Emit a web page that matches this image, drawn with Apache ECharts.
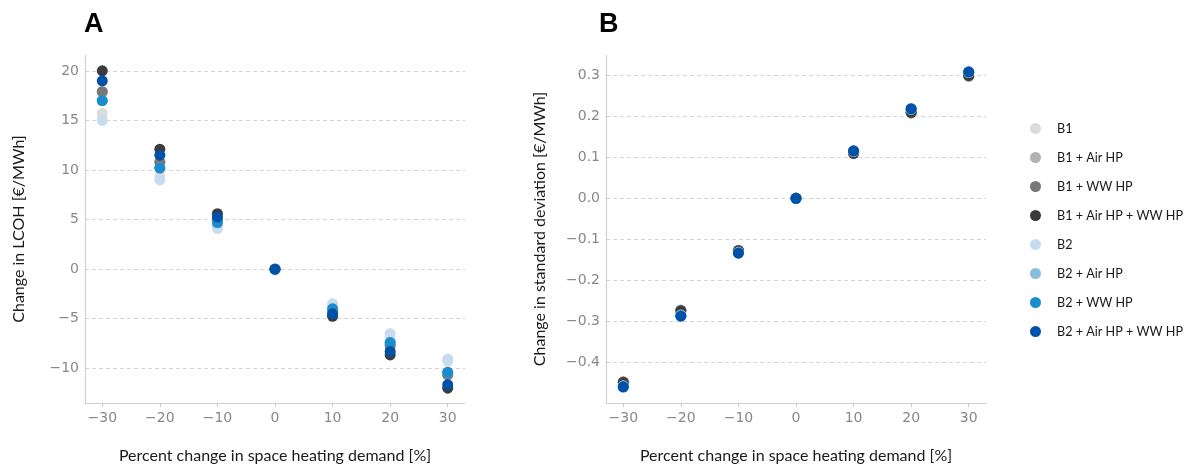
<!DOCTYPE html>
<html>
<head>
<meta charset="utf-8">
<script src="https://cdn.jsdelivr.net/npm/echarts@6/dist/echarts.min.js"></script>
<style>
html, body { margin: 0; padding: 0; background: #fff; }
#chart { width: 1189px; height: 470px; }
</style>
</head>
<body>
<div id="chart"></div>
<script>
// percent change in space heating demand
let xValues = [-30, -20, -10, 0, 10, 20, 30]

let seriesNames = ['B1', 'B1 + Air HP', 'B1 + WW HP', 'B1 + Air HP + WW HP',
  'B2', 'B2 + Air HP', 'B2 + WW HP', 'B2 + Air HP + WW HP']
let seriesColors = ['#dcdcdc', '#b2b2b2', '#787878', '#3c3c3c',
  '#c8dcf0', '#88bde0', '#1a8dcc', '#0052a8']

// A: change in LCOH [€/MWh]
let lcohB1 = [15.7, 9.4, 4.3, 0, -3.7, -7.0, -9.3]
let lcohB1Air = [17.9, 10.8, 5.0, 0, -4.2, -7.7, -10.6]
let lcohB1WW = [17.9, 10.8, 5.0, 0, -4.2, -7.7, -10.65]
let lcohB1All = [20.0, 12.1, 5.6, 0, -4.75, -8.65, -12.0]
let lcohB2 = [15.0, 9.0, 4.1, 0, -3.5, -6.5, -9.05]
let lcohB2Air = [17.0, 10.2, 4.7, 0, -4.0, -7.4, -10.4]
let lcohB2WW = [17.0, 10.2, 4.7, 0, -4.0, -7.4, -10.4]
let lcohB2All = [19.0, 11.5, 5.25, 0, -4.5, -8.3, -11.65]

// B: change in standard deviation [€/MWh]
let sdB1 = [-0.448, -0.273, -0.127, 0, 0.109, 0.208, 0.298]
let sdB1Air = [-0.448, -0.273, -0.127, 0, 0.109, 0.208, 0.298]
let sdB1WW = [-0.449, -0.274, -0.128, 0, 0.110, 0.209, 0.299]
let sdB1All = [-0.450, -0.275, -0.128, 0, 0.110, 0.210, 0.300]
let sdB2 = [-0.458, -0.285, -0.132, 0, 0.114, 0.217, 0.307]
let sdB2Air = [-0.459, -0.286, -0.133, 0, 0.115, 0.218, 0.308]
let sdB2WW = [-0.460, -0.287, -0.133, 0, 0.115, 0.218, 0.308]
let sdB2All = [-0.461, -0.288, -0.134, 0, 0.116, 0.219, 0.309]

let xTicks = [-30, -20, -10, 0, 10, 20, 30]
let lcohTicks = [-10, -5, 0, 5, 10, 15, 20]
let sdTicks = [-0.4, -0.3, -0.2, -0.1, 0, 0.1, 0.2, 0.3]

let lcohData = [lcohB1, lcohB1Air, lcohB1WW, lcohB1All, lcohB2, lcohB2Air, lcohB2WW, lcohB2All]
let sdData = [sdB1, sdB1Air, sdB1WW, sdB1All, sdB2, sdB2Air, sdB2WW, sdB2All]

let minus = v => String(v).replace('-', '\u2212')

let tickFont = { fontFamily: 'DejaVu Sans', fontSize: 14, color: '#888888' }
let nameFont = { fontFamily: 'Lato', fontSize: 16, color: '#1a1a1a' }

function xAxis(idx) {
  return {
    type: 'value', gridIndex: idx, min: -33, max: 33,
    name: 'Percent change in space heating demand [%]',
    nameLocation: 'middle', nameGap: 45, nameTextStyle: nameFont,
    axisLine: { show: true, onZero: false, lineStyle: { color: '#d0d0d0', width: 1.2 } },
    axisTick: { show: true, length: 4, customValues: xTicks, lineStyle: { color: '#c8c8c8' } },
    axisLabel: Object.assign({ customValues: xTicks, margin: 8, formatter: minus }, tickFont),
    splitLine: { show: false }
  }
}

function yAxis(idx, min, max, ticks, name, gap, fmt) {
  return {
    type: 'value', gridIndex: idx, min: min, max: max,
    name: name, nameLocation: 'middle', nameGap: gap, nameTextStyle: nameFont,
    axisLine: { show: true, onZero: false, lineStyle: { color: '#d0d0d0', width: 1.2 } },
    axisTick: { show: false, customValues: ticks },
    axisLabel: Object.assign({ customValues: ticks, margin: 6, formatter: fmt }, tickFont),
    splitLine: { show: true, lineStyle: { color: '#d4d4d4', type: [4, 3], width: 1 } }
  }
}

let series = []
seriesNames.forEach((name, i) => {
  series.push({
    name: name, type: 'scatter', xAxisIndex: 0, yAxisIndex: 0,
    symbolSize: 11, itemStyle: { color: seriesColors[i], opacity: 1 },
    data: xValues.map((x, j) => [x, lcohData[i][j]])
  })
})
seriesNames.forEach((name, i) => {
  series.push({
    name: name, type: 'scatter', xAxisIndex: 1, yAxisIndex: 1,
    symbolSize: 11, itemStyle: { color: seriesColors[i], opacity: 1 },
    data: xValues.map((x, j) => [x, sdData[i][j]])
  })
})

let option = {
  animation: false,
  backgroundColor: '#fff',
  title: [
    { text: 'A', left: 79, top: 6, textStyle: { fontFamily: 'Liberation Sans', fontWeight: 'bold', fontSize: 27, color: '#000' } },
    { text: 'B', left: 594, top: 6, textStyle: { fontFamily: 'Liberation Sans', fontWeight: 'bold', fontSize: 27, color: '#000' } }
  ],
  legend: {
    orient: 'vertical', left: 1025, top: 117,
    icon: 'circle', itemWidth: 11, itemHeight: 11, itemGap: 16,
    textStyle: { fontFamily: 'Lato', fontSize: 12.6, color: '#1a1a1a', padding: [0, 0, 0, 11] },
    data: seriesNames
  },
  grid: [
    { left: 85, top: 55, width: 380, height: 348, outerBoundsMode: 'none' },
    { left: 606, top: 55, width: 380, height: 348, outerBoundsMode: 'none' }
  ],
  xAxis: [xAxis(0), xAxis(1)],
  yAxis: [
    yAxis(0, -13.5, 21.6, lcohTicks, 'Change in LCOH [€/MWh]', 58, minus),
    yAxis(1, -0.5, 0.35, sdTicks, 'Change in standard deviation [€/MWh]', 58, v => minus(v.toFixed(1)))
  ],
  series: series
}

let oChart = echarts.init(document.getElementById('chart'), null, { renderer: 'canvas' })
oChart.setOption(option)
</script>
</body>
</html>
